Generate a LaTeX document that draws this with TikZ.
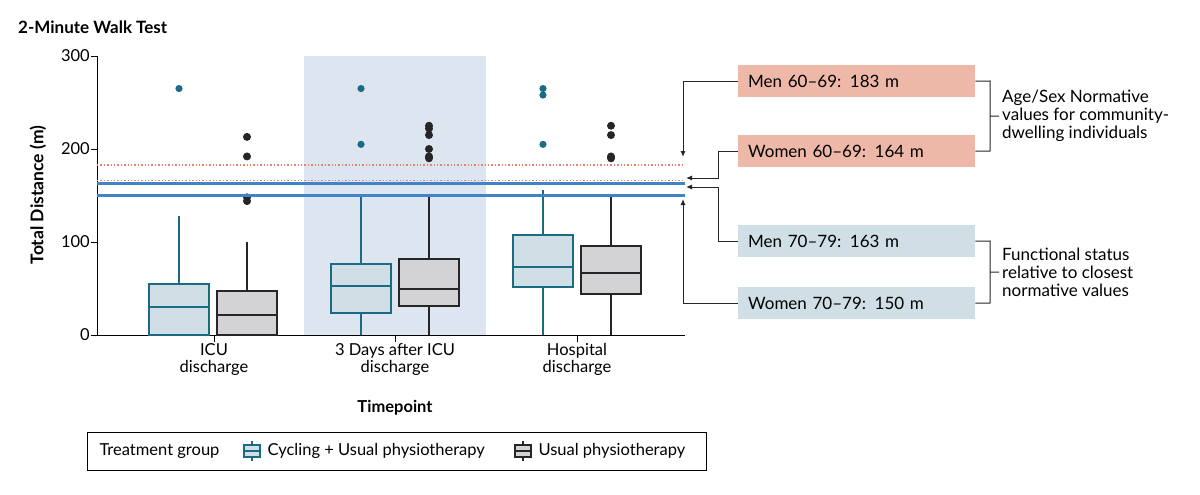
\documentclass[tikz,border=0pt]{standalone}
\usepackage{fontspec}
\setmainfont{Lato}
\usetikzlibrary{arrows.meta}
\definecolor{teal}{HTML}{1B6B82}
\definecolor{cfill}{HTML}{D0DFE6}
\definecolor{ufill}{HTML}{D3D3D5}
\definecolor{bgshade}{HTML}{DCE5F0}
\definecolor{redd}{HTML}{E8826A}
\definecolor{blu}{HTML}{3F83C9}
\definecolor{pink}{HTML}{EEB8A8}
\definecolor{lblue}{HTML}{D0DFE6}
\newcommand\vv[1]{{335-0.93*(#1)}}
\newcommand\bxp[7]{%
 \draw[#2,line width=1.6pt] (#1,\vv{0}) -- (#1,\vv{#4}) (#1,\vv{#6}) -- (#1,\vv{#7});
 \draw[#2,fill=#3,line width=2pt] (#1-30,\vv{#4}) rectangle (#1+30,\vv{#6});
 \draw[#2,line width=2pt] (#1-30,\vv{#5}) -- (#1+30,\vv{#5});}
\tikzset{txt/.style={font=\fontsize{16.5}{17.5}\selectfont},
 nbox/.style={minimum width=237pt,minimum height=32pt,inner sep=0pt,anchor=north west,font=\fontsize{17}{18}\selectfont,text width=217pt,align=left},
 conn/.style={line width=1pt,black!85},
 arr/.style={conn,-{Latex[length=6pt,width=5pt]}}}
\begin{document}
\begin{tikzpicture}[x=1pt,y=-1pt]
\useasboundingbox (0,0) rectangle (1200,495);
\fill[bgshade] (304,56) rectangle (486,335);
\node[anchor=west,font=\bfseries\fontsize{17}{18}\selectfont,inner sep=0pt] (title) at (18,27) {2-Minute Walk Test};
\node[rotate=90,font=\bfseries\fontsize{17.5}{18}\selectfont] (ylab) at (38,195) {Total Distance (m)};
% axes
\draw[line width=1pt] (97,56) -- (97,335) -- (685,335);
\foreach \v in {0,100,200,300}{\draw[line width=1pt] (91,\vv{\v}) -- (97,\vv{\v});
 \node[anchor=east,txt,inner sep=1pt] at (91,\vv{\v}) {\v};}
\foreach \x in {214,395,577}{\draw[line width=1pt] (\x,335) -- (\x,342);}
\node[txt,align=center,anchor=north,inner sep=0pt] (t1) at (214,343) {ICU\\discharge};
\node[txt,align=center,anchor=north,inner sep=0pt] (t2) at (395,343) {3 Days after ICU\\discharge};
\node[txt,align=center,anchor=north,inner sep=0pt] (t3) at (577,343) {Hospital\\discharge};
\node[font=\bfseries\fontsize{16.5}{17}\selectfont] (tp) at (395,408) {Timepoint};
% boxes
\bxp{179}{teal}{cfill}{0}{30}{55}{128}
\bxp{247}{black!85}{ufill}{0}{22}{47}{100}
\bxp{361}{teal}{cfill}{24}{53}{76}{152}
\bxp{429}{black!85}{ufill}{31}{50}{82}{148}
\bxp{543}{teal}{cfill}{52}{73}{107}{156}
\bxp{611}{black!85}{ufill}{44}{67}{96}{148}
% outliers
\foreach \x/\v in {179/265,361/265,361/205,543/265,543/258,543/205}{\fill[teal] (\x,\vv{\v}) circle (3.6pt);}
\foreach \x/\v in {247/213,247/192,247/148,247/144,429/225,429/222,429/215,429/200,429/192,429/190,611/225,611/215,611/192,611/190}{\fill[black!85] (\x,\vv{\v}) circle (4pt);}
% reference lines
\draw[redd,dotted,line width=1.4pt] (97,\vv{183}) -- (685,\vv{183});
\draw[redd,dotted,line width=1.4pt] (97,\vv{166}) -- (685,\vv{166});
\draw[blu,line width=2.2pt] (97,\vv{163}) -- (685,\vv{163});
\draw[blu,line width=2.2pt] (97,\vv{150}) -- (685,\vv{150});
% right boxes
\node[nbox,fill=pink] (m6) at (738,65) {Men 60–69: 183 m};
\node[nbox,fill=pink] (w6) at (738,135) {Women 60–69: 164 m};
\node[nbox,fill=lblue] (m7) at (738,225) {Men 70–79: 163 m};
\node[nbox,fill=lblue] (w7) at (738,287) {Women 70–79: 150 m};
\coordinate (a1) at (683,157);
\coordinate (a2) at (686,178);
\coordinate (a3) at (686,187);
\coordinate (a4) at (683,199);
\draw[arr] (m6.west) -| (a1);
\draw[arr] (w6.west) -| (718,178) -- (a2);
\draw[arr] (m7.west) -| (718,187) -- (a3);
\draw[arr] (w7.west) -| (a4);
\draw[conn] (m6.east) -- (990,81) -- (990,151) -- (w6.east) (990,116) -- (999,116);
\draw[conn] (m7.east) -- (990,241) -- (990,303) -- (w7.east) (990,272) -- (999,272);
\node[anchor=west,font=\fontsize{17}{18}\selectfont,align=left,inner sep=0pt] (g1) at (1002,116) {Age/Sex Normative\\values for community-\\dwelling individuals};
\node[anchor=west,font=\fontsize{17}{18}\selectfont,align=left,inner sep=0pt] (g2) at (1002,272) {Functional status\\relative to closest\\normative values};
% legend
\draw[line width=1pt] (87,432) rectangle (706,470);
\node[anchor=west,txt] (lt) at (96,451) {Treatment group};
\draw[teal,fill=cfill,line width=1.8pt] (244,445) rectangle (260,457) (244,451) -- (260,451) (252,441)--(252,445) (252,457)--(252,461);
\node[anchor=west,txt] (l1) at (264,451) {Cycling + Usual physiotherapy};
\draw[black!85,fill=ufill,line width=1.8pt] (515,445) rectangle (531,457) (515,451) -- (531,451) (523,441)--(523,445) (523,457)--(523,461);
\node[anchor=west,txt] (l2) at (535,451) {Usual physiotherapy};
\end{tikzpicture}
\end{document}
